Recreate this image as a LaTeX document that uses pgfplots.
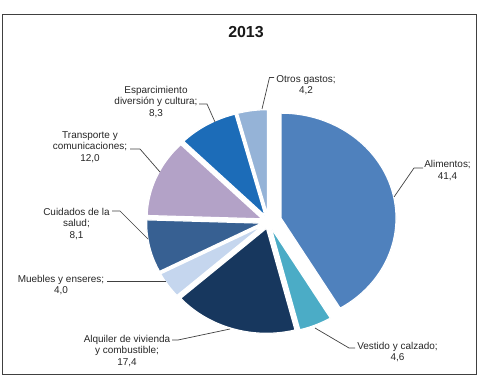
\documentclass[border=0pt]{standalone}
\usepackage{pgfplots}
\pgfplotsset{compat=1.18}
\usepackage{fontspec}
\setmainfont{Liberation Sans}

\definecolor{cAlim}{RGB}{79,129,189}
\definecolor{cVest}{RGB}{75,172,198}
\definecolor{cAlqu}{RGB}{23,55,94}
\definecolor{cMueb}{RGB}{197,214,238}
\definecolor{cCuid}{RGB}{55,96,146}
\definecolor{cTran}{RGB}{179,162,199}
\definecolor{cEspa}{RGB}{28,108,184}
\definecolor{cOtro}{RGB}{149,179,215}

\tikzset{
  lbl/.style={font=\fontsize{10}{11.6}\selectfont, text=black!85, align=center, inner sep=0pt},
  lead/.style={black!75, line width=0.7bp},
}

% pie centre and radii (axis units = bp, y downwards)
\def\pcx{268.5}
\def\pcy{221.6}
\def\prx{115}
\def\pry{105}
\def\cum{0}

% \slice{share in %}{explode distance}{colour}: clockwise from 12 o'clock
\newcommand{\slice}[3]{%
  \pgfmathsetmacro{\sA}{90-3.6*\cum}%
  \pgfmathsetmacro{\sB}{90-3.6*(\cum+#1)}%
  \pgfmathsetmacro{\sM}{(\sA+\sB)/2}%
  \pgfmathsetmacro{\sX}{\pcx+#2*cos(\sM)}%
  \pgfmathsetmacro{\sY}{\pcy-#2*sin(\sM)}%
  \pgfmathsetmacro{\newcum}{\cum+#1}%
  \xdef\cum{\newcum}%
  \edef\doslice{\noexpand\addplot[fill=#3, draw=white, line width=1.2bp,
     domain=\sB:\sA, samples=80, variable=\noexpand\x]
     ({\sX+\prx*cos(\noexpand\x)}, {\sY-\pry*sin(\noexpand\x)})
     -- (axis cs:\sX,\sY) -- cycle;}%
  \doslice
}

\begin{document}
\begin{tikzpicture}
\begin{axis}[
  scale only axis, width=479bp, height=378bp,
  xmin=0, xmax=479, ymin=0, ymax=378, y dir=reverse,
  hide axis, clip=false,
]
\path (axis cs:0,0) rectangle (axis cs:479,378);
\slice{41.4}{13}{cAlim}
\slice{4.6}{7}{cVest}
\slice{17.4}{7}{cAlqu}
\slice{4.0}{7}{cMueb}
\slice{8.1}{7}{cCuid}
\slice{12.0}{7}{cTran}
\slice{8.3}{7}{cEspa}
\slice{4.2}{7}{cOtro}

% leader lines
\draw[lead] (axis cs:274,77.5) -- (axis cs:269.5,77.5) -- (axis cs:262,109);
\draw[lead] (axis cs:199,104) -- (axis cs:207,104) -- (axis cs:215,122);
\draw[lead] (axis cs:130,149) -- (axis cs:140,149) -- (axis cs:160,172);
\draw[lead] (axis cs:112,211) -- (axis cs:120,211) -- (axis cs:148,239);
\draw[lead] (axis cs:107,281) -- (axis cs:166,281);
\draw[lead] (axis cs:172,340) -- (axis cs:178,340) -- (axis cs:230,329);
\draw[lead] (axis cs:355,348) -- (axis cs:349,348) -- (axis cs:315,328);
\draw[lead] (axis cs:423,168) -- (axis cs:414,168) -- (axis cs:394,197);

% labels
\node[lbl] at (axis cs:306,85.3) {Otros gastos;\\4,2};
\node[lbl] at (axis cs:156,101.7) {Esparcimiento\\diversión y cultura;\\8,3};
\node[lbl] at (axis cs:90,147.2) {Transporte y\\comunicaciones;\\12,0};
\node[lbl] at (axis cs:76.5,224) {Cuidados de la\\salud;\\8,1};
\node[lbl] at (axis cs:61,285) {Muebles y enseres;\\4,0};
\node[lbl] at (axis cs:127,350.6) {Alquiler de vivienda\\y combustible;\\17,4};
\node[lbl] at (axis cs:397.5,352.2) {Vestido y calzado;\\4,6};
\node[lbl] at (axis cs:447.5,170.8) {Alimentos;\\41,4};

% title and frame
\node[font=\fontsize{16}{19}\selectfont\bfseries, text=black!90] at (axis cs:246,32) {2013};
\draw[black!75, line width=1.4bp] (axis cs:2.5,14.5) rectangle (axis cs:476.5,374.5);
\end{axis}
\end{tikzpicture}
\end{document}
